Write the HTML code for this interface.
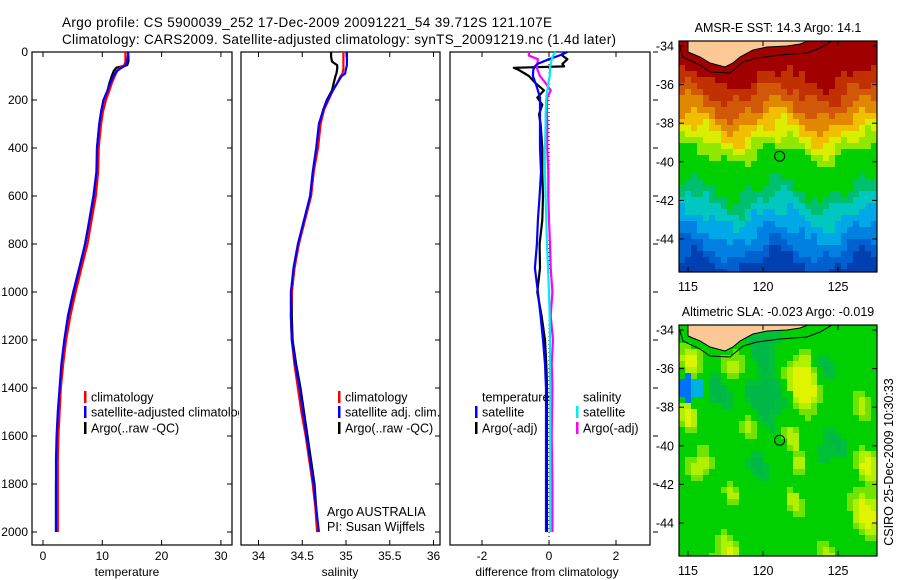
<!DOCTYPE html>
<html><head><meta charset="utf-8"><style>
html,body{margin:0;padding:0;background:#fff;}
svg{display:block;font-family:"Liberation Sans",sans-serif;}
</style></head><body>
<svg id="root" width="900" height="580" viewBox="0 0 900 580" xmlns="http://www.w3.org/2000/svg">
<rect width="900" height="580" fill="#fff"/>
<text x="62" y="27" font-size="13.5" textLength="490">Argo profile: CS 5900039_252 17-Dec-2009 20091221_54 39.712S 121.107E</text>
<text x="62" y="44" font-size="13.5" textLength="554">Climatology: CARS2009. Satellite-adjusted climatology: synTS_20091219.nc (1.4d later)</text>
<g id="plots"></g>
<g id="maps"></g>
</svg>
<script>
// ---- profile data ----
const depthT = [0,20,40,55,65,80,100,130,160,200,250,300,400,500,600,700,800,900,1000,1100,1200,1300,1400,1500,1600,1700,1800,1900,2000];
const tempClim = [13.9,13.9,13.9,13.7,13.0,12.5,12.1,11.6,11.2,10.6,10.1,9.8,9.4,9.3,8.9,8.2,7.5,6.5,5.5,4.6,3.9,3.4,3.0,2.8,2.6,2.5,2.5,2.5,2.5];
const tempSat = [14.4,14.3,14.2,14.0,13.3,12.4,11.9,11.3,10.9,10.2,9.8,9.5,9.1,9.0,8.5,7.8,7.1,6.1,5.1,4.2,3.6,3.1,2.8,2.5,2.3,2.2,2.2,2.2,2.2];
const tempArgo = [14.3,14.4,14.4,14.2,12.4,11.9,11.6,11.2,10.9,10.2,9.8,9.5,9.1,9.1,8.6,7.9,7.1,6.2,5.2,4.3,3.7,3.2,2.9,2.6,2.4,2.3,2.2,2.2,2.2];
const depthS = [0,20,40,55,70,90,100,130,160,200,240,300,400,500,600,700,800,900,1000,1100,1200,1300,1400,1500,1600,1700,1800,1900,2000];
const salClim = [34.97,34.97,34.97,34.97,34.97,34.96,34.94,34.90,34.85,34.80,34.75,34.71,34.68,34.63,34.60,34.53,34.46,34.41,34.38,34.37,34.38,34.41,34.45,34.49,34.54,34.58,34.62,34.65,34.67];
const salSat = [35.01,35.01,35.01,35.01,35.0,34.99,34.95,34.90,34.85,34.79,34.74,34.69,34.66,34.62,34.59,34.52,34.45,34.40,34.37,34.37,34.38,34.42,34.47,34.51,34.55,34.59,34.63,34.66,34.69];
const salArgo = [34.83,34.83,34.84,34.9,34.9,34.89,34.88,34.86,34.84,34.78,34.74,34.70,34.67,34.63,34.60,34.53,34.46,34.41,34.38,34.38,34.39,34.43,34.48,34.52,34.56,34.60,34.64,34.66,34.68];
const depthD = [0,15,30,50,60,66,75,100,130,160,190,220,260,300,400,500,600,700,800,900,1000,1100,1200,1300,1400,1600,1800,2000];
const dTempSat = [0.55,0.3,0.0,-0.35,-0.42,-0.45,-0.47,-0.48,-0.4,-0.33,-0.27,-0.27,-0.27,-0.27,-0.27,-0.24,-0.28,-0.33,-0.36,-0.42,-0.33,-0.25,-0.18,-0.12,-0.09,-0.09,-0.09,-0.09];
const dTempArgo = [0.45,0.4,0.55,0.4,0.45,-1.05,-0.9,-0.6,-0.4,-0.15,-0.35,-0.2,-0.3,-0.25,-0.2,-0.2,-0.18,-0.2,-0.28,-0.27,-0.35,-0.22,-0.12,-0.08,-0.06,-0.06,-0.06,-0.06];
const dSalSat = [0.2,0.12,0.08,0.05,0.03,0.03,0.03,0.02,-0.02,-0.05,-0.08,-0.09,-0.1,-0.1,-0.12,-0.12,-0.1,-0.08,-0.06,-0.03,0.0,0.02,0.03,0.03,0.04,0.04,0.04,0.04];
const dSalArgo = [-0.6,-0.6,-0.33,-0.35,-0.36,-0.36,-0.34,-0.27,-0.1,0.05,-0.05,-0.06,-0.06,-0.05,-0.05,-0.02,-0.02,0.0,0.03,0.05,0.1,0.05,0.12,0.08,0.1,0.08,0.1,0.1];
const tempTicks = [0,10,20,30];
const salTicks = [34,34.5,35,35.5,36];
const salTickLabels = ["34","34.5","35","35.5","36"];
const diffTicks = [-2,0,2];
const depthTicks = [0,200,400,600,800,1000,1200,1400,1600,1800,2000];
// ---- map data ----
const lonTicks = [115,120,125];
const latTicks = [-34,-36,-38,-40,-42,-44];
const floatLon = 121.107, floatLat = -39.712;

const NS = "http://www.w3.org/2000/svg";
function el(tag, attrs, parent, txt){
  const e = document.createElementNS(NS, tag);
  for (const k in attrs) e.setAttribute(k, attrs[k]);
  if (txt !== undefined) e.textContent = txt;
  parent.appendChild(e); return e;
}
const plots = document.getElementById('plots');
const yD = d => 52 + 0.24*d;
const panels = [
  {x0:32,x1:232,sx:v=>43+5.93*v, ticks:tempTicks, labels:tempTicks.map(String), title:"temperature", name:"temperature-panel", tx:127},
  {x0:241,x1:440,sx:v=>258.5+87.5*(v-34), ticks:salTicks, labels:salTickLabels, title:"salinity", name:"salinity-panel", tx:340},
  {x0:450,x1:650,sx:v=>549+33.5*v, ticks:diffTicks, labels:diffTicks.map(String), title:"difference from climatology", name:"difference-panel", tx:547}
];
const clip = el('clipPath',{id:'clipP1'},plots);
el('rect',{x:0,y:0,width:239,height:580},clip);
panels.forEach((p,i)=>{
  const g = el('g',{},plots);
  
  
  const fr = el('rect',{x:p.x0,y:52,width:p.x1-p.x0,height:493,fill:'#fff',stroke:'#000','stroke-width':1.2},g);
  
  
  p.ticks.forEach((t,k)=>{
    const x = p.sx(t);
    el('line',{x1:x,y1:52,x2:x,y2:57,stroke:'#000'},g);
    el('line',{x1:x,y1:545,x2:x,y2:540,stroke:'#000'},g);
    const tl = el('text',{x:x,y:560,'font-size':12,'text-anchor':'middle'},g,p.labels[k]);
    
    
  });
  depthTicks.forEach(d=>{
    const y = yD(d);
    if(i===0){ el('line',{x1:p.x0,y1:y,x2:p.x0+5,y2:y,stroke:'#000'},g); }
    if(i<2){ el('line',{x1:p.x1,y1:y,x2:p.x1-5,y2:y,stroke:'#000'},g); }
    else { el('line',{x1:p.x1+3,y1:y,x2:p.x1+8,y2:y,stroke:'#000'},g); }
  });
  const at = el('text',{x:p.tx,y:576,'font-size':12,'text-anchor':'middle'},g,p.title);
  
  
});
depthTicks.forEach(d=>{
  const t = el('text',{x:28,y:yD(d)+4,'font-size':12,'text-anchor':'end'},plots,String(d));
  
  
});
function series(depths, vals, sx, color, name, w){
  const pts = depths.map((d,k)=>sx(vals[k]).toFixed(1)+','+yD(d).toFixed(1)).join(' ');
  const pl = el('polyline',{points:pts,fill:'none',stroke:color,'stroke-width':w||2.2,'stroke-linejoin':'round'},plots);
  
  
}
// zero line in difference panel
const zl = el('line',{x1:panels[2].sx(0),y1:52,x2:panels[2].sx(0),y2:545,stroke:'#000','stroke-dasharray':'1,3'},plots);


series(depthT,tempArgo,panels[0].sx,'#000','temperature-argo-line');
series(depthT,tempClim,panels[0].sx,'#f00','temperature-climatology-line');
series(depthT,tempSat,panels[0].sx,'#00f','temperature-satellite-line');
series(depthS,salArgo,panels[1].sx,'#000','salinity-argo-line');
series(depthS,salClim,panels[1].sx,'#f00','salinity-climatology-line');
series(depthS,salSat,panels[1].sx,'#00f','salinity-satellite-line');
series(depthD,dTempArgo,panels[2].sx,'#000','temp-diff-argo-line');
series(depthD,dSalArgo,panels[2].sx,'#f0f','sal-diff-argo-line');
series(depthD,dTempSat,panels[2].sx,'#00f','temp-diff-satellite-line');
series(depthD,dSalSat,panels[2].sx,'#0ee','sal-diff-satellite-line');

function legend(x,y,color,label,clipId){
  const g = el('g',{},plots);
  
  
  if(clipId) g.setAttribute('clip-path','url(#'+clipId+')');
  if(color) el('rect',{x:x,y:y-6,width:2.5,height:12,fill:color},g);
  el('text',{x:x+7,y:y+4.5,'font-size':12.5},g,label);
}
legend(84,397,'#f00','climatology','clipP1');
legend(84,412,'#00f','satellite-adjusted climatology','clipP1');
legend(84,428,'#000','Argo(..raw -QC)','clipP1');
legend(338,397,'#f00','climatology');
legend(338,412,'#00f','satellite adj. clim.');
legend(338,428,'#000','Argo(..raw -QC)');
legend(475,397,null,'temperature');
legend(475,412,'#00f','satellite');
legend(475,428,'#000','Argo(-adj)');
legend(576,397,null,'salinity');
legend(576,412,'#0ee','satellite');
legend(576,428,'#f0f','Argo(-adj)');
const a1 = el('text',{x:327,y:516,'font-size':12.5},plots,'Argo AUSTRALIA');


const a2 = el('text',{x:327,y:531,'font-size':12.5},plots,'PI: Susan Wijffels');



// ---- maps ----
const maps = document.getElementById('maps');
function sstColor(lon,lat){
  let d = -lat - 0.55*Math.cos(2*Math.PI*(lon-118)/6) + 0.25*Math.sin(lon*2.3+lat*1.7) + 0.15*Math.sin(lon*5.1-lat*3.3);
  const stops=[[35.7,'#a00000'],[36.5,'#c03000'],[37.2,'#d05808'],[37.9,'#e08800'],[38.5,'#f0c000'],[39.1,'#d8f000'],[39.6,'#90e800'],[41.4,'#00d000'],[42.1,'#00c070'],[42.9,'#00c8c0'],[43.7,'#00a8e8'],[44.5,'#0080e0'],[45.2,'#0060d0'],[99,'#0040b0']];
  for(const s of stops) if(d<s[0]) return s[1];
}
const blobs=[[115.3,-35.6,0.9,1],[118,-36,0.9,1],[122.5,-36.3,1.1,1.2],[123,-37.4,0.9,1],[115,-38.5,0.8,1],[119,-39,0.9,0.9],[122,-39.5,0.8,0.8],[122.3,-41,0.6,0.7],[115.8,-41,0.8,1],[127,-41,0.9,1],[127,-43.5,1.2,1.2],[122,-43,0.8,0.7],[117.5,-45.6,1,0.9],[124.5,-45.6,0.8,0.7],[126.5,-38,0.9,0.6],[118,-42.5,0.7,0.6],[120,-34.8,0.9,-1],[120,-37.6,1.5,-0.9],[124,-36,0.8,-0.7],[117,-37,1,-0.8],[124.5,-40,1,-0.6],[119.5,-41,0.9,-0.6]];
function slaColor(lon,lat){
  if((lon-115)*(lon-115)/1.0+(lat+37)*(lat+37)/0.4<1) return lon<115.3?'#0070ff':'#00b0e0';
  if(lon<116 && Math.abs(lat+37)<0.6) return '#00b080';
  let v=0;
  for(const b of blobs){const r2=((lon-b[0])**2+(lat-b[1])**2)/(b[2]*b[2]); v+=b[3]*Math.exp(-r2);}
  v+=0.15*Math.sin(lon*3.1+lat*2.2);
  if(v>0.9) return '#e0f400';
  if(v>0.6) return '#b0f000';
  if(v>0.35) return '#70e400';
  if(v<-0.55) return '#00b848';
  if(v<-0.3) return '#00c038';
  return '#00d000';
}
function drawMap(top, title, colorFn, name){
  const g = el('g',{},maps);
  
  
  const lx = lon => 688 + 15*(lon-115);
  const ly = lat => top + 5 + 19.3*(-34-lat);
  const cid = 'clip'+name;
  const cp = el('clipPath',{id:cid},g);
  el('rect',{x:679,y:top,width:198,height:231},cp);
  const cells = el('g',{'clip-path':'url(#'+cid+')'},g);
  for(let py=top; py<top+231; py+=6){
    for(let px=679; px<877; px+=6){
      const lon = 115+(px+3-688)/15, lat = -34-(py+3-top-5)/19.3;
      el('rect',{x:px,y:py,width:6,height:6,fill:colorFn(lon,lat)},cells);
    }
  }
  const o = top-41;
  const land = el('polygon',{points:[[688,41],[688,52],[700,57],[710,63],[725,67],[733,63],[740,57],[753,50],[767,47],[787,46],[800,44],[808,41]].map(p=>p[0]+','+(p[1]+o)).join(' '),fill:'#fcc896',stroke:'#000','stroke-width':1},cells);
  
  
  el('polyline',{points:[[680,47],[683,57],[700,65],[710,72],[730,73],[743,62],[757,58],[780,55],[807,53],[820,48],[832,41]].map(p=>p[0]+','+(p[1]+o)).join(' '),fill:'none',stroke:'#000','stroke-width':1},cells);
  el('rect',{x:679,y:top,width:198,height:231,fill:'none',stroke:'#000','stroke-width':1.2},g);
  lonTicks.forEach(l=>{
    const x=lx(l);
    el('line',{x1:x,y1:top,x2:x,y2:top+5,stroke:'#000'},g);
    el('line',{x1:x,y1:top+231,x2:x,y2:top+226,stroke:'#000'},g);
    const t=el('text',{x:x,y:top+250,'font-size':12.5,'text-anchor':'middle'},g,String(l));
    
    
  });
  latTicks.forEach(l=>{
    const y=ly(l);
    el('line',{x1:679,y1:y,x2:684,y2:y,stroke:'#000'},g);
    el('line',{x1:877,y1:y,x2:872,y2:y,stroke:'#000'},g);
    const t=el('text',{x:674,y:y+4.5,'font-size':12.5,'text-anchor':'end'},g,String(l));
    
    
  });
  const c = el('circle',{cx:lx(floatLon),cy:ly(floatLat),r:5,fill:'none',stroke:'#000','stroke-width':1},g);
  
  
  const tt = el('text',{x:778,y:top-9,'font-size':12.5,'text-anchor':'middle'},g,title);
  
  
}
drawMap(41,'AMSR-E SST: 14.3 Argo: 14.1',sstColor,'sst-map');
drawMap(325,'Altimetric SLA: -0.023 Argo: -0.019',slaColor,'sla-map');
const stamp = el('text',{x:0,y:0,'font-size':12.5,'text-anchor':'middle',transform:'translate(893,462) rotate(-90)'},maps,'CSIRO 25-Dec-2009 10:30:33');


</script>
</body></html>
